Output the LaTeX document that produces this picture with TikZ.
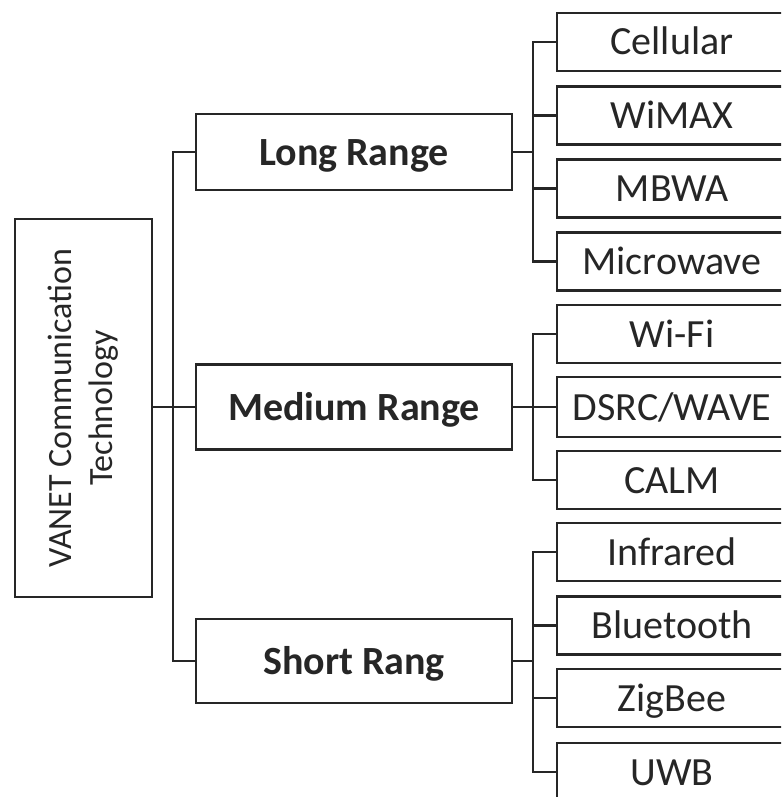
\documentclass[tikz,border=0pt]{standalone}
\usepackage{fontspec}
\setmainfont{Carlito}
\begin{document}
\begin{tikzpicture}[x=1pt,y=-1pt,
  line width=2.4pt, draw=black!85,
  box/.style={draw=black!85, line width=2.4pt, inner sep=0pt, text=black!85},
  rootbox/.style={box, minimum width=137pt, minimum height=378pt},
  midbox/.style={box, minimum width=316pt, font=\fontsize{40}{48}\selectfont\bfseries, text height=26pt, text depth=0pt},
  leafbox/.style={box, minimum width=230pt, minimum height=58pt, font=\fontsize{40}{48}\selectfont, text height=26pt, text depth=0pt},
  link/.style={draw=black!85, line width=2.4pt}
]
\useasboundingbox (0,0) rectangle (781,797);
\clip (0,0) rectangle (781,797);
% root
\node[rootbox] (root) at (83.5,408) {};
\node[rotate=90, align=center, font=\fontsize{34}{41}\selectfont, text=black!85] (roottext) at (83.5,408) {VANET Communication\\Technology};
% middle
\node[midbox, minimum height=76pt] (lr) at (354,152) {Long Range};
\node[midbox, minimum height=85pt] (mr) at (354,407) {Medium Range};
\node[midbox, minimum height=84pt] (sr) at (354,661) {Short Rang};
% leaves
\node[leafbox] (c1) at (672,42) {Cellular};
\node[leafbox] (c2) at (672,115.5) {WiMAX};
\node[leafbox] (c3) at (672,188.5) {MBWA};
\node[leafbox] (c4) at (672,261.5) {Microwave};
\node[leafbox] (m1) at (672,334) {Wi-Fi};
\node[leafbox, minimum height=60pt] (m2) at (672,407) {DSRC/WAVE};
\node[leafbox] (m3) at (672,480) {CALM};
\node[leafbox] (s1) at (672,552) {Infrared};
\node[leafbox] (s2) at (672,625.5) {Bluetooth};
\node[leafbox] (s3) at (672,698) {ZigBee};
\node[leafbox] (s4) at (672,772) {UWB};
% trunk
\coordinate (t) at (173,407);
\draw[link] (root.east |- t) -- (t);
\draw[link] (t) |- (lr.west);
\draw[link] (t) -- (mr.west);
\draw[link] (t) |- (sr.west);
% branches
\coordinate (bl) at (533,152);
\coordinate (bm) at (533,407);
\coordinate (bs) at (533,661);
\draw[link] (lr.east) -- (bl);
\draw[link] (mr.east) -- (bm);
\draw[link] (sr.east) -- (bs);
\foreach \n in {c1,c2,c3,c4} \draw[link] (bl) |- (\n.west);
\foreach \n in {m1,m2,m3} \draw[link] (bm) |- (\n.west);
\foreach \n in {s1,s2,s3,s4} \draw[link] (bs) |- (\n.west);
\end{tikzpicture}
\end{document}
